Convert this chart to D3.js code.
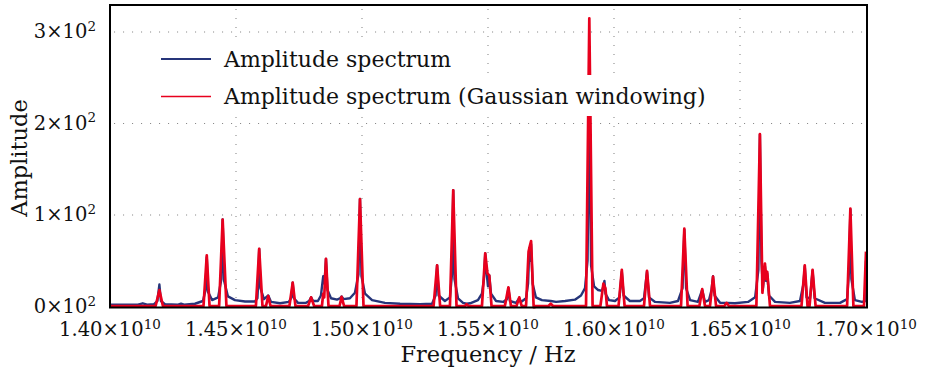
<!DOCTYPE html>
<html><head><meta charset="utf-8">
<script src="https://cdn.jsdelivr.net/npm/d3@7"></script>
<style>body{margin:0;background:#fff}svg{display:block}</style>
</head><body>
<script>
// ---- data (frequency in units of 1e10 Hz) ----
const xTickValues = [1.40, 1.45, 1.50, 1.55, 1.60, 1.65, 1.70];
const yTickValues = [0, 100, 200, 300];
const seriesNames = ["Amplitude spectrum", "Amplitude spectrum (Gaussian windowing)"];

const blueFreq = [1.4000,1.4111,1.4130,1.4147,1.4175,1.4188,1.4196,1.4202,1.4218,1.4270,1.4282,1.4294,1.4337,1.4369,1.4379,1.4384,1.4389,1.4405,1.4429,1.4442,1.4447,1.4453,1.4468,1.4496,1.4536,1.4575,1.4585,1.4588,1.4592,1.4597,1.4611,1.4628,1.4639,1.4675,1.4710,1.4720,1.4725,1.4730,1.4746,1.4778,1.4790,1.4798,1.4806,1.4825,1.4837,1.4846,1.4851,1.4857,1.4863,1.4877,1.4901,1.4913,1.4919,1.4927,1.4952,1.4972,1.4986,1.4992,1.4998,1.5012,1.5040,1.5091,1.5151,1.5230,1.5278,1.5292,1.5298,1.5304,1.5329,1.5349,1.5357,1.5362,1.5367,1.5381,1.5401,1.5415,1.5429,1.5460,1.5476,1.5484,1.5489,1.5494,1.5500,1.5505,1.5512,1.5532,1.5560,1.5575,1.5581,1.5587,1.5611,1.5624,1.5631,1.5651,1.5659,1.5664,1.5669,1.5671,1.5677,1.5690,1.5714,1.5749,1.5770,1.5806,1.5845,1.5869,1.5885,1.5895,1.5902,1.5909,1.5921,1.5937,1.5952,1.5958,1.5962,1.5966,1.5980,1.6004,1.6022,1.6031,1.6038,1.6063,1.6103,1.6119,1.6131,1.6139,1.6163,1.6222,1.6254,1.6272,1.6279,1.6286,1.6302,1.6333,1.6350,1.6361,1.6377,1.6387,1.6393,1.6399,1.6421,1.6447,1.6480,1.6532,1.6560,1.6573,1.6579,1.6585,1.6591,1.6599,1.6603,1.6608,1.6615,1.6639,1.6698,1.6738,1.6752,1.6757,1.6764,1.6778,1.6788,1.6796,1.6837,1.6897,1.6925,1.6933,1.6938,1.6942,1.6956,1.6984,1.6998,1.7000];
const blueAmp = [2,2,3.5,2,2.5,6,24,6,2.5,2,3,2,3,6,18,54,16,7,10,30,95,28,11,7,5.5,5.5,9,25,63,20,8,12,5,3.5,5,10,26,9,4,4,6,10,6,6,12,33,25,52,18,9,7.5,9,11,8,9,15,35,117.5,33,14,7,4,3,2.5,3,12,45,12,6,10,35,127,30,9,4,3,3.5,7,14,30,58,38,22,34,14,6,5,8,20,6,4,9,5,9,25,64,50,68,25,10,7,6,5,6,7.5,12,20,50,220,45,22,18,17,22,28,14,7,6,10,38,12,6,6,9,38,10,5,4,6,20,84,20,7,5,18,5,7,18,33,12,4,4,3.5,5,10,40,188,50,20,44,28,36,12,5,4,6,25,44,10,9,39,9,4,4,8,40,106,30,7,5,6,50];

const redFreq = [1.4000,1.4181,1.4196,1.4210,1.4371,1.4384,1.4395,1.4433,1.4447,1.4462,1.4579,1.4592,1.4605,1.4619,1.4628,1.4637,1.4712,1.4725,1.4736,1.4786,1.4798,1.4810,1.4841,1.4846,1.4850,1.4857,1.4867,1.4911,1.4919,1.4929,1.4978,1.4992,1.5006,1.5284,1.5298,1.5310,1.5349,1.5362,1.5375,1.5409,1.5415,1.5423,1.5476,1.5489,1.5498,1.5505,1.5514,1.5567,1.5581,1.5591,1.5613,1.5624,1.5633,1.5639,1.5651,1.5661,1.5666,1.5671,1.5681,1.5683,1.5687,1.5740,1.5749,1.5758,1.5889,1.5902,1.5915,1.5946,1.5958,1.5966,1.5972,1.6018,1.6031,1.6042,1.6119,1.6131,1.6143,1.6266,1.6279,1.6292,1.6339,1.6350,1.6361,1.6381,1.6393,1.6405,1.6438,1.6447,1.6456,1.6565,1.6579,1.6589,1.6599,1.6604,1.6608,1.6619,1.6744,1.6757,1.6768,1.6772,1.6776,1.6788,1.6800,1.6925,1.6938,1.6950,1.6992,1.7000];
const redAmp = [0.5,0.5,18,0.5,0.5,56,0.5,0.5,95,0.5,0.5,63,0.5,0.5,11.5,0.5,0.5,26,0.5,0.5,10,0.5,0.5,14,10,52,0.5,0.5,10.5,0.5,0.5,117.5,0.5,0.5,45,0.5,0.5,127,0.5,0.5,2.5,0.5,0.5,58,36,34,0.5,0.5,21,0.5,0.5,10,1,0.5,0.5,60,66,71.5,0.5,-2,0.5,0.5,3,0.5,0.5,315,0.5,0.5,25,20,0.5,0.5,40,0.5,0.5,39,0.5,0.5,85,0.5,0.5,19,0.5,0.5,32.6,0.5,0.5,4,0.5,0.5,188.5,15,47,30,38,0.5,0.5,45,0.5,1,0.5,40,0.5,0.5,107,0.5,0.5,60];

// ---- layout ----
const W = 926, H = 376;
const L = 110, R = 866, T = 5, B = 306.5;
const FONT = "'DejaVu Serif', serif";
const BLUE = "#26357a", RED = "#e8001d";

const svg = d3.select("body").append("svg").attr("width", W).attr("height", H)
  .style("font-family", FONT);

const x = d3.scaleLinear().domain([1.40, 1.70]).range([L, R]);
const y = d3.scaleLinear().domain([0, 329.5]).range([B, T]);

// grid
const grid = svg.append("g").attr("stroke", "#8a8a8a").attr("stroke-width", 1.1)
  .attr("stroke-dasharray", "1.1,7.9");
grid.selectAll("line.h").data(yTickValues.filter(d => d > 0)).join("line")
  .attr("x1", L + 4).attr("x2", R).attr("y1", d => y(d)).attr("y2", d => y(d));
grid.selectAll("line.v").data(xTickValues.slice(1, -1)).join("line")
  .attr("x1", d => x(d)).attr("x2", d => x(d)).attr("y1", T + 4).attr("y2", B);

// clip
svg.append("clipPath").attr("id", "clip").append("rect")
  .attr("x", L).attr("y", T).attr("width", R - L + 1).attr("height", B - T + 2);

const line = d3.line().x(d => x(d[0])).y(d => y(d[1]));
const plot = svg.append("g").attr("clip-path", "url(#clip)");
plot.append("path").datum(d3.zip(blueFreq, blueAmp)).attr("d", line)
  .attr("fill", "none").attr("stroke", BLUE).attr("stroke-width", 2.4)
  .attr("stroke-linejoin", "round");
plot.append("path").datum(d3.zip(redFreq, redAmp)).attr("d", line)
  .attr("fill", "none").attr("stroke", RED).attr("stroke-width", 2.7)
  .attr("stroke-linejoin", "round");

// legend
const leg = svg.append("g");
leg.append("rect").attr("x", 155).attr("y", 37).attr("width", 298).attr("height", 38).attr("fill", "#fff");
leg.append("rect").attr("x", 155).attr("y", 75).attr("width", 562).attr("height", 41).attr("fill", "#fff");
const legRows = [{name: seriesNames[0], color: BLUE, yy: 59, w: 2}, {name: seriesNames[1], color: RED, yy: 96.5, w: 1.6}];
legRows.forEach(r => {
  leg.append("line").attr("x1", 161).attr("x2", 211).attr("y1", r.yy).attr("y2", r.yy)
    .attr("stroke", r.color).attr("stroke-width", r.w);
  leg.append("text").attr("x", 224).attr("y", r.yy).attr("dy", "0.35em")
    .attr("font-size", 22).attr("fill", "#111").text(r.name);
});

// frame
svg.append("rect").attr("x", L).attr("y", T).attr("width", R - L + 1).attr("height", B - T + 1)
  .attr("fill", "none").attr("stroke", "#000").attr("stroke-width", 2);

// y tick labels
const yl = svg.append("g").attr("font-size", 19.5).attr("fill", "#111");
yTickValues.forEach(v => {
  const t = yl.append("text").attr("x", 96).attr("y", y(v) + 6.5).attr("text-anchor", "end");
  t.append("tspan").text(d3.format("d")(v / 100) + "\u00d710");
  t.append("tspan").attr("dy", -7.5).attr("font-size", 13.5).text("2");
});

// x tick labels
const xl = svg.append("g").attr("font-size", 19.5).attr("fill", "#111");
xTickValues.forEach(v => {
  const t = xl.append("text").attr("x", x(v)).attr("y", 336).attr("text-anchor", "middle");
  t.append("tspan").text(d3.format(".2f")(v) + "\u00d710");
  t.append("tspan").attr("dy", -7.5).attr("font-size", 13.5).text("10");
});

// axis titles
svg.append("text").attr("x", (L + R) / 2).attr("y", 362).attr("text-anchor", "middle")
  .attr("font-size", 22.5).attr("fill", "#111").text("Frequency / Hz");
svg.append("text").attr("transform", "translate(27,158) rotate(-90)").attr("text-anchor", "middle")
  .attr("font-size", 22.5).attr("fill", "#111").text("Amplitude");
</script>
</body></html>
